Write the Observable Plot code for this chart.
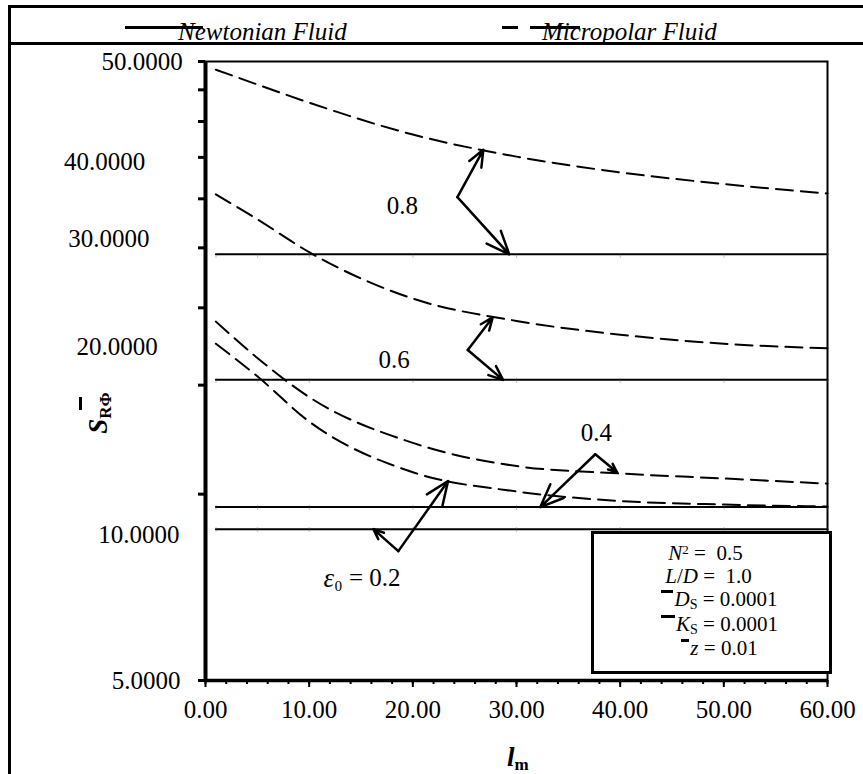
<!DOCTYPE html>
<html><head><meta charset="utf-8">
<script src="https://cdn.jsdelivr.net/npm/d3@7"></script>
<script src="https://cdn.jsdelivr.net/npm/@observablehq/plot@0.6"></script>
<style>
body{margin:0;background:#fff;overflow:hidden}
#wrap{position:relative;width:863px;height:774px;overflow:hidden;font-family:'Liberation Serif','Times New Roman',serif;color:#000;background:#fff}
#wrap svg{position:absolute;left:0;top:0;font-family:'Liberation Serif','Times New Roman',serif}
#wrap svg text{font-family:'Liberation Serif','Times New Roman',serif}
.abs{position:absolute;white-space:nowrap}
.bar{position:absolute;background:#000}
.box div{position:absolute;left:0;width:100%;text-align:center;font-size:21px;line-height:18px;height:18px}
.lo{position:relative;top:0.22em;vertical-align:baseline}
.hi{position:relative;top:-0.45em;vertical-align:baseline}
.ob{display:inline-block;width:12px;height:3px;background:#000;vertical-align:0.62em;margin-right:1px}
</style></head><body>
<div id="wrap"></div>
<script>
// ---- data ----
const lm = [1, 5, 10, 20, 30, 40, 50, 60];
const eccentricities = [0.2, 0.4, 0.6, 0.8];
const newtonianS = [8.78, 9.53, 15.3, 24.4];
const micropolar02 = [17.5, 15.5, 13.1, 10.85, 10.1, 9.75, 9.62, 9.55];
const micropolar04 = [19.0, 16.6, 14.35, 12.1, 11.1, 10.8, 10.6, 10.4];
const micropolar06 = [30.5, 27.8, 24.6, 20.7, 19.05, 18.1, 17.5, 17.2];
const micropolar08 = [48.5, 45.9, 42.9, 38.1, 35.1, 33.1, 31.7, 30.6];

const xTickValues = [0, 10, 20, 30, 40, 50, 60];
const yTickLabels = ["50.0000", "40.0000", "30.0000", "20.0000", "10.0000", "5.0000"];
// where each (hand-placed) y label sits in the original, in axis units
const yLabelAtS = [50, 34.4, 25.8, 17.3, 8.58, 5.0];
const yLabelAtLm = [-2.2, -5.8, -5.4, -4.6, -2.5, -2.4];

// curve annotations
const annoText = ["0.8", "0.6", "0.4"];
const annoLm = [19.0, 18.2, 37.7];
const annoS = [29.2, 16.5, 12.55];
const arrowFromLm = [24.3, 24.3, 25.3, 25.3, 37.6, 37.6, 18.6, 18.6];
const arrowFromS = [30.2, 30.2, 17.1, 17.1, 11.6, 11.6, 8.09, 8.09];
const arrowToLm = [26.8, 29.3, 27.7, 28.7, 39.7, 32.3, 23.4, 16.2];
const arrowToS = [36.0, 24.4, 19.3, 15.3, 10.85, 9.53, 10.5, 8.78];

// ---- tables ----
const micro = [micropolar02, micropolar04, micropolar06, micropolar08];
const microData = [];
micro.forEach((arr, k) => arr.forEach((v, i) => microData.push({eps: eccentricities[k], lm: lm[i], S: v})));
const newtData = [];
newtonianS.forEach((v, k) => lm.forEach(x => newtData.push({eps: eccentricities[k], lm: x, S: v})));
const yLabels = yTickLabels.map((t, i) => ({t, x: yLabelAtLm[i], y: yLabelAtS[i]}));
const annos = annoText.map((t, i) => ({t, x: annoLm[i], y: annoS[i]}));
const arrows = arrowFromLm.map((x1, i) => ({x1, y1: arrowFromS[i], x2: arrowToLm[i], y2: arrowToS[i]}));

const serif = "Liberation Serif, Times New Roman, serif";
const chart = Plot.plot({
  width: 863, height: 774,
  marginLeft: 205, marginRight: 36, marginTop: 61, marginBottom: 94,
  style: {fontFamily: serif, fontSize: "25px", background: "transparent", color: "#000"},
  x: {domain: [0, 60], label: null},
  y: {type: "log", domain: [5, 50], label: null},
  marks: [
    Plot.frame({stroke: "#000", strokeWidth: 2}),
    Plot.axisX({ticks: d3.range(0, 61, 2), tickSize: 4, tickFormat: () => "", label: null, strokeWidth: 2}),
    Plot.axisX({ticks: xTickValues, tickSize: 7, tickPadding: 13, tickFormat: d3.format(".2f"), label: null, strokeWidth: 2, fontSize: 25, fontFamily: serif}),
    Plot.axisY({ticks: d3.range(5, 51, 5), tickSize: 7, tickFormat: () => "", label: null, strokeWidth: 3}),
    Plot.ruleX([0], {stroke: "#000", strokeWidth: 4}),
    Plot.ruleY([5], {stroke: "#000", strokeWidth: 3.5}),
    Plot.line(newtData, {x: "lm", y: "S", z: "eps", stroke: "#000", strokeWidth: 2}),
    Plot.text(newtData, {x: "lm", y: "S", text: () => "|", fontSize: 7, fill: "#555"}),
    Plot.line(microData, {x: "lm", y: "S", z: "eps", stroke: "#000", strokeWidth: 2, strokeDasharray: "17,8", curve: "monotone-x"}),
    Plot.arrow(arrows, {x1: "x1", y1: "y1", x2: "x2", y2: "y2", stroke: "#000", strokeWidth: 2.5, headLength: 15, headAngle: 45}),
    Plot.text(annos, {x: "x", y: "y", text: "t", fontSize: 25, fontFamily: serif}),
    Plot.text([{x: 12.4, y: 7.31}], {x: "x", y: "y", text: () => "ε", fontSize: 27, fontStyle: "italic", textAnchor: "end", fontFamily: serif}),
    Plot.text([{x: 12.4, y: 7.31}], {x: "x", y: "y", text: () => "₀ = 0.2", fontSize: 25, textAnchor: "start", fontFamily: serif}),
    Plot.text(yLabels, {x: "x", y: "y", text: "t", textAnchor: "end", fontSize: 25, fontFamily: serif})
  ]
});
const wrap = document.getElementById("wrap");
wrap.appendChild(chart);

wrap.insertAdjacentHTML("beforeend", `
<div class="abs" style="left:8px;top:5px;width:900px;height:800px;border:3px solid #000;box-sizing:border-box"></div>
<div class="bar" style="left:8px;top:42px;width:860px;height:3px"></div>
<div class="bar" style="left:125px;top:26px;width:78px;height:3px"></div>
<div class="abs" style="left:178px;top:18px;font-size:25px;line-height:28px;font-style:italic">Newtonian Fluid</div>
<div class="bar" style="left:502px;top:26px;width:16px;height:3px"></div>
<div class="bar" style="left:530px;top:26px;width:50px;height:3px"></div>
<div class="abs" style="left:542px;top:18px;font-size:25px;line-height:28px;font-style:italic">Micropolar Fluid</div>
<div class="abs box" style="left:591px;top:531px;width:241px;height:143px;border:3px solid #000;box-sizing:border-box;background:#fff">
  <div style="top:10px;left:-6px"><i>N</i><span class="hi" style="font-size:13px">2</span> =&nbsp; 0.5</div>
  <div style="top:33px;left:-3px"><i>L</i>/<i>D</i> =&nbsp; 1.0</div>
  <div style="top:56px;left:8px"><span class="ob"></span><i>D</i><span class="lo" style="font-size:14px">S</span> = 0.0001</div>
  <div style="top:81px;left:8px"><span class="ob" style="width:14px"></span><i>K</i><span class="lo" style="font-size:14px">S</span> = 0.0001</div>
  <div style="top:105px;left:8px"><span class="ob" style="width:8px"></span><i>z</i> = 0.01</div>
</div>
<div class="abs" style="left:100px;top:413px;transform:translate(-50%,-50%) rotate(-90deg);font-weight:bold;line-height:30px"><i style="font-size:27px">S</i><span class="lo" style="font-size:17px">RΦ</span></div>
<div class="bar" style="left:79px;top:397px;width:3px;height:13px"></div>
<div class="abs" style="left:507px;top:742px;font-weight:bold;line-height:30px"><i style="font-size:27px">l</i><span class="lo" style="font-size:17px">m</span></div>
`);
</script>
</body></html>
